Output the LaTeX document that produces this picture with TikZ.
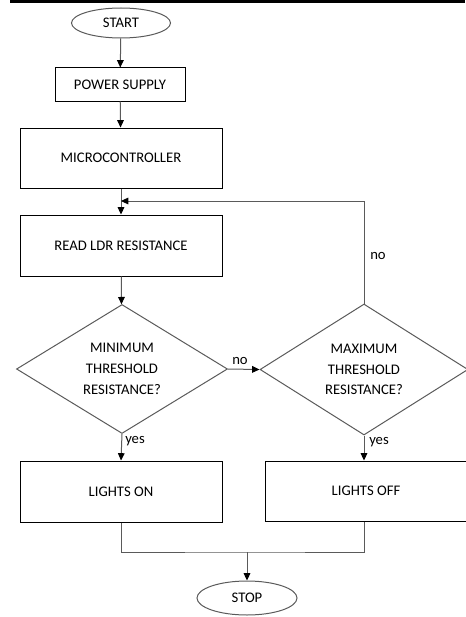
\documentclass[tikz,border=0pt]{standalone}
\usepackage{fontspec}
\setmainfont{Carlito}
\usetikzlibrary{shapes.geometric,arrows.meta}

\definecolor{lineGray}{RGB}{90,90,90}
\tikzset{
  flowtext/.style={font=\fontsize{11}{15.5}\selectfont,align=center,inner sep=0.75pt},
  procbox/.style={draw=black,line width=0.75pt,rectangle,flowtext},
  termnode/.style={draw=lineGray,line width=0.75pt,ellipse,flowtext},
  decnode/.style={draw=lineGray,line width=0.75pt,diamond,aspect=1.6,flowtext,inner sep=0pt},
  flowarrow/.style={draw=lineGray,line width=0.75pt,-{Triangle[length=5.5pt,width=5pt,fill=black,color=black]}},
  flowline/.style={draw=lineGray,line width=0.75pt},
}

\begin{document}
\begin{tikzpicture}[x=0.75pt,y=0.75pt,yscale=-1,xscale=1]
\useasboundingbox (0,0) rectangle (465,617);

%Shape: top edge bar
\fill [black] (10,0) rectangle (465,3.5) ;

%Shape: Terminals
\node [termnode,minimum width=74.25pt,minimum height=22.5pt] (start) at (121,23) {START};
\node [termnode,minimum width=75pt,minimum height=25.5pt] (stop) at (247,598) {STOP};

%Shape: Process boxes
\node [procbox,minimum width=97.5pt,minimum height=24.75pt] (power) at (120,84.5) {POWER SUPPLY};
\node [procbox,minimum width=151.5pt,minimum height=45pt] (micro) at (121,158) {MICROCONTROLLER};
\node [procbox,minimum width=151.5pt,minimum height=45.75pt] (readldr) at (121,245.5) {READ LDR RESISTANCE};
\node [procbox,minimum width=151.5pt,minimum height=45.75pt] (lightson) at (121,491.5) {LIGHTS ON};
\node [procbox,minimum width=157.5pt,minimum height=45pt] (lightsoff) at (370,491) {LIGHTS OFF\kern6pt};

%Shape: Decisions
\node [decnode,minimum width=158.25pt,minimum height=96.75pt] (minres) at (122,369) {MINIMUM\\THRESHOLD\\RESISTANCE?};
\node [decnode,minimum width=156pt,minimum height=98.25pt] (maxres) at (364,369.5) {MAXIMUM\\THRESHOLD\\RESISTANCE?};

%Joints
\coordinate (loopin) at (121,201) ;
\coordinate (merge) at (247,552) ;

%Straight Lines
\draw [flowarrow] (start) -- (power) ;
\draw [flowarrow] (power) -- (micro) ;
\draw [flowarrow] (micro) -- (readldr) ;
\draw [flowarrow] (readldr) -- (minres) ;
\draw [flowarrow] (maxres.north) |- (loopin) ;
\draw [flowarrow] (minres.east) -- (maxres.west) ;
\draw [flowarrow] (minres.south) -- (lightson.north) ;
\draw [flowarrow] (maxres.south) -- (maxres.south |- lightsoff.north) ;
\draw [flowline] (lightson.south) |- (merge) -| (maxres.south |- lightsoff.south) ;
\draw [flowarrow] (merge) -- (stop) ;

% Text Node
\node [flowtext,anchor=south] (nominlbl) at (240,366) {no};
% Text Node
\node [flowtext,anchor=west] (nomaxlbl) at (369,256) {no};
% Text Node
\node [flowtext,anchor=west] (yesminlbl) at (124,441) {yes};
% Text Node
\node [flowtext,anchor=west] (yesmaxlbl) at (368,442) {yes};

\end{tikzpicture}
\end{document}
